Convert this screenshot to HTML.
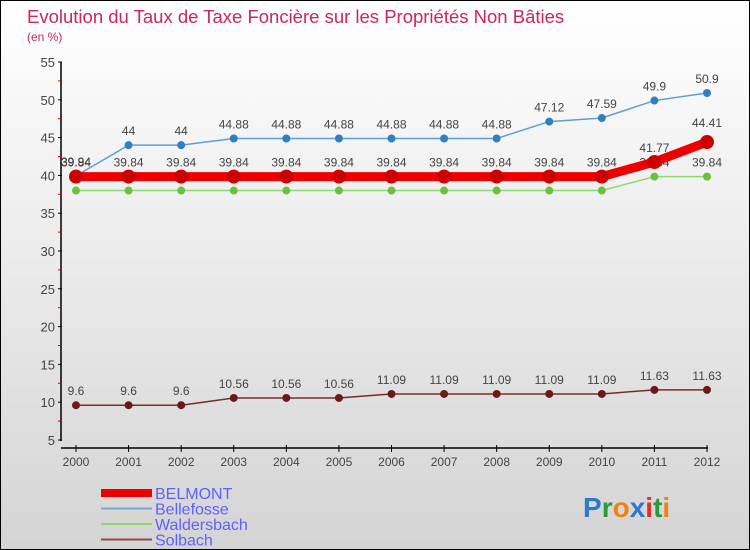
<!DOCTYPE html>
<html><head><meta charset="utf-8"><style>
body{margin:0}
#c{width:750px;height:550px;position:relative;background:linear-gradient(#ffffff,#d4d4d4);box-sizing:border-box;border:1px solid #000;overflow:hidden;font-family:"Liberation Sans",sans-serif}
svg{position:absolute;left:0;top:0}
</style></head><body>
<div id="c">
<svg id="s" width="750" height="550">
<text x="26" y="22" font-size="18.5" fill="#c8285a">Evolution du Taux de Taxe Foncière sur les Propriétés Non Bâties</text>
<text x="26" y="40" font-size="12" fill="#c8285a">(en %)</text>
</svg>
</div>
<script>
const years=[2000,2001,2002,2003,2004,2005,2006,2007,2008,2009,2010,2011,2012];
const belmont=[39.84,39.84,39.84,39.84,39.84,39.84,39.84,39.84,39.84,39.84,39.84,41.77,44.41];
const bellefosse=[39.94,44,44,44.88,44.88,44.88,44.88,44.88,44.88,47.12,47.59,49.9,50.9];
const waldersbach=[38,38,38,38,38,38,38,38,38,38,38,39.84,39.84];
const solbach=[9.6,9.6,9.6,10.56,10.56,10.56,11.09,11.09,11.09,11.09,11.09,11.63,11.63];
const yTicks=[5,10,15,20,25,30,35,40,45,50,55];
const NS="http://www.w3.org/2000/svg",s=document.getElementById('s');
const x=i=>75+i*(706-75)/(years.length-1);
const y=v=>439-(v-5)*(439-61)/50;
function el(t,a,txt){const e=document.createElementNS(NS,t);for(const k in a)e.setAttribute(k,a[k]);if(txt!==undefined)e.textContent=txt;s.appendChild(e);return e;}
let e=el('line',{x1:60,y1:61,x2:60,y2:440,stroke:'#000','stroke-width':1.5});


e=el('line',{x1:60,y1:447,x2:707,y2:447,stroke:'#000','stroke-width':1.5});


yTicks.forEach((v,k)=>{
 el('line',{x1:57,y1:y(v),x2:61,y2:y(v),stroke:'#000'});
 if(k<yTicks.length-1) el('line',{x1:57,y1:y(v+2.5),x2:60,y2:y(v+2.5),stroke:'#d00'});
 const t=el('text',{x:54,y:y(v)+5,'text-anchor':'end','font-size':13,fill:'#444'},v);
 
 
});
years.forEach((yr,i)=>{
 el('line',{x1:x(i),y1:444,x2:x(i),y2:451,stroke:'#000'});
 const t=el('text',{x:x(i),y:465,'text-anchor':'middle','font-size':12,fill:'#444'},yr);
 
 
});
function series(name,data,color,w,r,labels,dotColor){
 const p=el('polyline',{points:data.map((v,i)=>x(i)+','+y(v)).join(' '),fill:'none',stroke:color,'stroke-width':w});
 
 
 data.forEach((v,i)=>{
  const c=el('circle',{cx:x(i),cy:y(v),r:r,fill:dotColor});
  
  
  if(labels&&labels(i)){
   const t=el('text',{x:x(i),y:y(v)-10,'text-anchor':'middle','font-size':12,fill:'#444'},v);
   
   
  }
 });
}
series('solbach',solbach,'#7a2a2a',1.5,4,()=>true,'#6a1a1a');
series('waldersbach',waldersbach,'#8fd870',1.5,4,i=>i>=11,'#6cc040');
series('bellefosse',bellefosse,'#5aa0d8',1.5,4,()=>true,'#3080c0');
series('belmont',belmont,'#ee0000',9,7,i=>i<=11,'#cc0000');
const lt=el('text',{x:x(12),y:y(belmont[12])-15,'text-anchor':'middle','font-size':12,fill:'#444'},belmont[12]);


const leg=[['BELMONT','#ee0000',8],['Bellefosse','#7aaad0',2],['Waldersbach','#8fd870',2],['Solbach','#8a4a4a',2]];
leg.forEach((l,i)=>{
 const yy=492+i*15.5;
 const ln=el('line',{x1:100,y1:yy,x2:151,y2:yy,stroke:l[1],'stroke-width':l[2]});
 
 
 const t=el('text',{x:154,y:yy+6,'font-size':16,fill:'#6060ff'},l[0]);
 
 
});
const lg=el('text',{x:582,y:516,'font-size':28,'font-weight':'bold'});


[['P','#2a7ad0'],['r','#2a9a3a'],['o','#f08010'],['x','#2a7ad0'],['i','#e03020'],['t','#2a9a3a'],['i','#f08010']].forEach(c=>{const sp=document.createElementNS(NS,'tspan');sp.setAttribute('fill',c[1]);sp.textContent=c[0];lg.appendChild(sp);});
</script>
</body></html>
